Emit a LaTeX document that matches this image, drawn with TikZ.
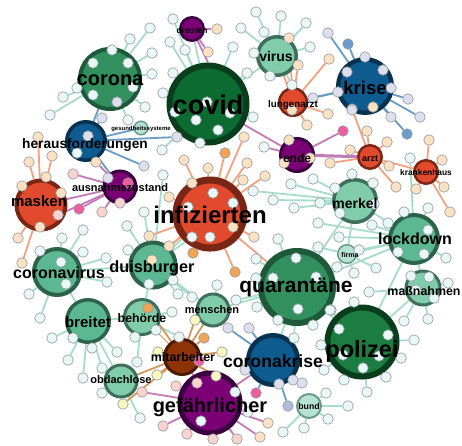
\documentclass[tikz,border=0pt]{standalone}
\usepackage{fontspec}
\setmainfont{Liberation Sans}
\usetikzlibrary{arrows.meta,positioning}
\pgfdeclarelayer{bg}\pgfdeclarelayer{paper}\pgfsetlayers{paper,bg,main}
\definecolor{cvG}{HTML}{0B6B30}\definecolor{cvGd}{HTML}{0A3D1C}
\definecolor{mG}{HTML}{31905D}\definecolor{mGd}{HTML}{1E5A3A}
\definecolor{pzG}{HTML}{1C7D41}
\definecolor{lG}{HTML}{5BB892}\definecolor{lGd}{HTML}{2C624A}
\definecolor{pG}{HTML}{80CCAB}\definecolor{pGd}{HTML}{3F6E5A}
\definecolor{tG}{HTML}{B7E3D4}\definecolor{tGd}{HTML}{6A9A8A}
\definecolor{rd}{HTML}{E24A2D}\definecolor{rdd}{HTML}{7A2614}
\definecolor{pu}{HTML}{7B0076}\definecolor{pud}{HTML}{3B0040}
\definecolor{bl}{HTML}{0D5B8F}\definecolor{bld}{HTML}{08324F}
\definecolor{br}{HTML}{8D3306}\definecolor{brd}{HTML}{4A1A03}
\definecolor{sc}{HTML}{E9F7F7}\definecolor{so}{HTML}{FDE1C3}\definecolor{sO}{HTML}{F3A356}
\definecolor{sp}{HTML}{FAD3CE}\definecolor{sP}{HTML}{EC5F9C}\definecolor{sl}{HTML}{DEDFEE}
\definecolor{sy}{HTML}{FCF6C1}\definecolor{sb}{HTML}{6B9DCB}\definecolor{sg}{HTML}{AFBCDC}
\definecolor{satb}{HTML}{8E9A9E}
\definecolor{eGc}{HTML}{A7DCC8}\definecolor{eRc}{HTML}{F4A17F}\definecolor{ePc}{HTML}{C27AB9}
\definecolor{eBc}{HTML}{6A9BC6}\definecolor{eNc}{HTML}{D6955A}
\tikzset{
  hub/.style 2 args={circle,fill=#1,draw=#2,inner sep=0pt},
  sat/.style={circle,draw=satb,line width=0.6pt,minimum size=10.5pt,inner sep=0pt},
  lbl/.style={anchor=base,inner sep=0pt,font=\fontsize{#1}{#1}\selectfont\bfseries},
  eg/.style={draw=eGc,line width=1.8pt},
  er/.style={draw=eRc,line width=1.8pt},
  ep/.style={draw=ePc,line width=1.8pt},
  eb/.style={draw=eBc,line width=1.8pt},
  en/.style={draw=eNc,line width=1.8pt}
}
% satellites: parent/x/y/fill
\def\greenlist{corona/130/39/sc,corona/150/28/sc,corona/152/53/sc,corona/152/74/sc,corona/145/107/sc,
  corona/128/120/sc,corona/50/115/sc,corona/63/97/sc,corona/77/88/sc,corona/112/50/sc,corona/93/63/sc,corona/128/63/sc,
  corona/93/95/sc,corona/117/102/sl,corona/133/87/sc,covid/173/19/sc,covid/170/42/sc,covid/173/73/sc,covid/163/93/sc,
  covid/175/112/sc,covid/196/120/sc,covid/207/102/sc,covid/230/113/sc,covid/218/130/sc,covid/200/143/sc,covid/162/150/sc,
  covid/253/117/sc,covid/233/47/sc,covid/247/73/sc,covid/185/50/sc,virus/256/12/sc,virus/281/16/sc,virus/306/23/sc,
  virus/241/28/sc,virus/264/32/sc,virus/310/47/sc,virus/254/53/sc,virus/270/76/sc,virus/292/85/sc,merkel/291/184/sc,
  merkel/313/179/sc,merkel/352/174/sc,merkel/335/188/sc,merkel/273/200/sc,merkel/294/208/sc,merkel/320/203/sc,
  merkel/340/213/sc,merkel/374/204/sc,merkel/373/183/sc,merkel/253/191/sc,lockdown/410/158/sc,lockdown/404/212/sc,
  lockdown/388/223/sc,lockdown/428/208/sc,lockdown/428/230/sc,lockdown/398/252/sc,lockdown/424/254/sc,lockdown/446/258/sc,
  lockdown/372/225/sc,lockdown/359/250/sc,lockdown/339/237/sc,lockdown/318/223/sc,firma/354/273/sc,firma/376/268/sc,
  firma/337/267/sc,firma/318/247/sc,quarant/278/239/sc,quarant/256/259/sc,quarant/256/278/sc,quarant/273/278/sc,
  quarant/296/258/sc,quarant/316/277/sc,quarant/257/307/sc,quarant/298/309/sc,quarant/331/310/sc,quarant/278/320/sc,
  quarant/313/325/sc,quarant/294/338/sc,quarant/236/300/sc,massn/411/276/sc,massn/429/277/sc,massn/448/283/sc,
  massn/416/290/sc,massn/404/321/sc,massn/428/319/sc,massn/434/298/sc,massn/369/292/sc,polizei/354/302/sc,
  polizei/339/329/sc,polizei/388/335/sc,polizei/379/356/sc,polizei/363/368/sc,polizei/343/355/sc,polizei/321/345/sc,
  polizei/330/310/sc,polizei/401/358/sc,polizei/386/377/sc,polizei/367/392/sc,polizei/344/380/sc,polizei/324/370/sc,
  polizei/414/340/sc,bund/326/393/sc,bund/348/406/sc,bund/328/419/sc,bund/304/428/sc,bund/283/432/sc,
  coronavirus/40/251/sc,coronavirus/62/238/sc,coronavirus/83/230/sc,coronavirus/83/252/sc,coronavirus/106/258/sc,
  coronavirus/61/262/sc,coronavirus/66/284/sc,coronavirus/29/294/sc,coronavirus/107/282/sc,coronavirus/40/318/sc,
  duisb/128/250/sc,duisb/127/226/sc,duisb/144/212/sc,duisb/163/175/sc,duisb/149/284/sc,duisb/173/280/sc,
  duisb/178/294/sc,duisb/192/237/sc,duisb/192/297/sc,breitet/52/338/sc,breitet/73/338/sc,breitet/92/348/sc,
  breitet/68/360/sc,breitet/83/378/sc,breitet/102/368/sc,breitet/117/352/sc,behoerde/135/337/sc,behoerde/156/330/sc,
  behoerde/137/362/sc,behoerde/172/312/sc,behoerde/179/337/sc,menschen/217/285/sc,obdach/102/393/sc,obdach/140/418/sc}
\def\redlist{infiz/184/160/so,infiz/208/168/so,infiz/192/183/so,infiz/213/193/sc,infiz/188/207/sc,
  infiz/233/203/sc,infiz/210/237/sc,infiz/233/227/so,infiz/169/197/so,infiz/149/236/so,infiz/169/246/so,infiz/193/253/sO,
  infiz/254/237/so,infiz/265/176/so,infiz/243/180/so,infiz/235/272/sO,infiz/247/163/so,infiz/152/260/so,infiz/225/153/sO,
  infiz/244/137/so,masken/29/162/so,masken/52/156/so,masken/46/177/so,masken/22/186/so,masken/61/193/so,masken/40/227/so,
  masken/18/238/so,masken/22/263/so,masken/38/137/so,lungenarzt/298/65/so,lungenarzt/329/59/so,lungenarzt/328/114/so,
  lungenarzt/292/110/so,lungenarzt/307/125/so,lungenarzt/289/38/so,arzt/352/109/so,arzt/367/131/so,arzt/350/150/so,
  arzt/387/142/so,arzt/389/166/so,arzt/396/187/so,arzt/330/163/so,krankenh/429/140/so,krankenh/442/160/so,
  krankenh/416/189/so,krankenh/444/187/so,krankenh/450/212/so}
\def\purplelist{drosten/217/29/so,drosten/208/52/so,ende/264/147/sc,ende/289/140/so,ende/284/163/so,
  ende/310/158/so,ende/343/131/sP,ausnahme/73/174/sp,ausnahme/96/162/so,ausnahme/108/178/sl,ausnahme/128/183/sP,
  ausnahme/120/203/sp,ausnahme/102/212/sp,ausnahme/79/209/sP,ausnahme/58/215/sp,gefaehrl/142/392/sp,gefaehrl/176/386/sp,
  gefaehrl/197/383/sp,gefaehrl/163/426/sp,gefaehrl/187/434/sp,gefaehrl/213/439/sp,gefaehrl/237/439/sp,gefaehrl/260/437/so,
  gefaehrl/268/423/so,gefaehrl/235/392/sc,gefaehrl/201/421/sc,gefaehrl/248/412/sc}
\def\bluelist{krise/328/33/sl,krise/348/44/sb,krise/365/57/sl,krise/383/70/sl,krise/347/72/sl,
  krise/338/92/sl,krise/391/88/sl,krise/408/99/sl,krise/420/117/sl,krise/391/117/sl,krise/407/134/sb,krise/373/107/so,
  krise/352/110/sl,krise/313/98/sl,herausf/88/136/sl,herausf/102/118/sl,herausf/177/137/sl,herausf/144/166/sl,
  herausf/77/153/sc,coronakrise/249/328/sl,coronakrise/228/328/sl,coronakrise/245/370/sl,coronakrise/256/393/sP,
  coronakrise/279/384/sl,coronakrise/293/380/sl,coronakrise/302/383/sl,coronakrise/288/406/sg}
\def\brownlist{mitarb/195/320/sy,mitarb/204/338/sO,mitarb/158/352/sy,mitarb/222/352/sy,
  mitarb/157/375/sy,mitarb/199/361/sP,mitarb/123/404/sy,mitarb/216/376/sy,mitarb/148/308/sO}
\begin{document}
\begin{tikzpicture}[x=1pt,y=-1pt]
\begin{pgfonlayer}{paper}\fill[white] (0,0) rectangle (462,445);\end{pgfonlayer}
\useasboundingbox (0,0) rectangle (462,445);
% hubs
\node[hub={cvG}{cvGd},line width=6pt,minimum size=77pt] (covid) at (208,104) {};
\node[hub={mG}{mGd},line width=4pt,minimum size=60pt] (corona) at (110,79) {};
\node[hub={pu}{pud},line width=2.5pt,minimum size=23.5pt] (drosten) at (192,29) {};
\node[hub={pG}{pGd},line width=3.5pt,minimum size=38.5pt] (virus) at (277,56) {};
\node[hub={rd}{rdd},line width=2.5pt,minimum size=27.5pt] (lungenarzt) at (293,102) {};
\node[hub={bl}{bld},line width=4.5pt,minimum size=53.5pt] (krise) at (365,86) {};
\node[hub={bl}{bld},line width=3.5pt,minimum size=38.5pt] (herausf) at (86,141) {};
\node[hub={tG}{tGd},line width=1.5pt,minimum size=13.5pt] (gesund) at (141,128) {};
\node[hub={pu}{pud},line width=3pt,minimum size=33pt] (ende) at (297,155) {};
\node[hub={rd}{rdd},line width=2.5pt,minimum size=23.5pt] (arzt) at (370,157) {};
\node[hub={rd}{rdd},line width=2.5pt,minimum size=23.5pt] (krankenh) at (426,172) {};
\node[hub={rd}{rdd},line width=4pt,minimum size=49pt] (masken) at (41,205) {};
\node[hub={pu}{pud},line width=3pt,minimum size=32pt] (ausnahme) at (120,187) {};
\node[hub={rd}{rdd},line width=7pt,minimum size=68pt] (infiz) at (210,214) {};
\node[hub={pG}{pGd},line width=3.5pt,minimum size=42.5pt] (merkel) at (355,201) {};
\node[hub={lG}{lGd},line width=4pt,minimum size=48pt] (lockdown) at (414,239) {};
\node[hub={tG}{tGd},line width=1.5pt,minimum size=18.5pt] (firma) at (347,254) {};
\node[hub={mG}{mGd},line width=6pt,minimum size=72pt] (quarant) at (297,287) {};
\node[hub={pG}{pGd},line width=3pt,minimum size=34pt] (massn) at (423,288) {};
\node[hub={lG}{lGd},line width=4pt,minimum size=46pt] (coronavirus) at (57,272) {};
\node[hub={lG}{lGd},line width=4pt,minimum size=45pt] (duisb) at (153,265) {};
\node[hub={lG}{lGd},line width=3.5pt,minimum size=42.5pt] (breitet) at (88,321) {};
\node[hub={pG}{pGd},line width=3pt,minimum size=35pt] (behoerde) at (142,317) {};
\node[hub={pG}{pGd},line width=3pt,minimum size=32pt] (menschen) at (213,310) {};
\node[hub={br}{brd},line width=3pt,minimum size=35pt] (mitarb) at (182,357) {};
\node[hub={pG}{pGd},line width=3pt,minimum size=32pt] (obdach) at (121,381) {};
\node[hub={bl}{bld},line width=4.5pt,minimum size=49.5pt] (coronakrise) at (273,360) {};
\node[hub={pzG}{cvGd},line width=6pt,minimum size=69pt] (polizei) at (362,342) {};
\node[hub={pu}{pud},line width=5pt,minimum size=60pt] (gefaehrl) at (210,403) {};
\node[hub={tG}{tGd},line width=2pt,minimum size=24pt] (bund) at (309,406) {};
% satellites
\foreach \p/\x/\y/\c [count=\i] in \greenlist {\node[sat,fill=\c] (g\i) at (\x,\y) {};}
\foreach \p/\x/\y/\c [count=\i] in \redlist {\node[sat,fill=\c] (r\i) at (\x,\y) {};}
\foreach \p/\x/\y/\c [count=\i] in \purplelist {\node[sat,fill=\c] (p\i) at (\x,\y) {};}
\foreach \p/\x/\y/\c [count=\i] in \bluelist {\node[sat,fill=\c] (b\i) at (\x,\y) {};}
\foreach \p/\x/\y/\c [count=\i] in \brownlist {\node[sat,fill=\c] (n\i) at (\x,\y) {};}
% links
\begin{pgfonlayer}{bg}
\foreach \p/\x/\y/\c [count=\i] in \greenlist {\draw[eg] (\p)--(g\i);}
\foreach \p/\x/\y/\c [count=\i] in \redlist {\draw[er] (\p)--(r\i);}
\foreach \p/\x/\y/\c [count=\i] in \purplelist {\draw[ep] (\p)--(p\i);}
\foreach \p/\x/\y/\c [count=\i] in \bluelist {\draw[eb] (\p)--(b\i);}
\foreach \p/\x/\y/\c [count=\i] in \brownlist {\draw[en] (\p)--(n\i);}
\draw[eg] (covid)--(virus); \draw[eg] (covid)--(drosten); \draw[eg] (duisb)--(infiz); \draw[eg] (duisb)--(coronavirus);
\draw[eg] (coronavirus)--(breitet); \draw[eg] (breitet)--(behoerde); \draw[eg] (breitet)--(obdach); \draw[eg] (duisb)--(menschen);
\draw[eg] (duisb)--(behoerde); \draw[eg] (menschen)--(quarant); \draw[eg] (merkel)--(lockdown); \draw[eg] (merkel)--(quarant);
\draw[eg] (quarant)--(lockdown); \draw[eg] (lockdown)--(massn); \draw[eg] (polizei)--(massn); \draw[eg] (quarant)--(polizei);
\draw[eg] (lockdown)--(polizei); \draw[eg] (firma)--(lockdown); \draw[eg] (firma)--(merkel); \draw[eg] (quarant)--(coronakrise);
\draw[ep] (covid.north)--(drosten); \draw[ep] (covid)--(ende); \draw[ep,line width=3pt] (ende)--(arzt); \draw[ep] (ausnahme)--(masken);
\draw[ep] (gefaehrl)--(mitarb); \draw[ep] (gefaehrl)--(coronakrise);
\draw[er] (lungenarzt)--(virus); \draw[er] (arzt)--(krankenh); \draw[er] (infiz)--(quarant);
\draw[eb] (lungenarzt)--(krise); \draw[eb] (herausf)--(corona); \draw[eb] (herausf)--(ausnahme); \draw[eb] (herausf)--(gesund);
\draw[en] (mitarb)--(obdach); \draw[en,line width=0.8pt] (mitarb)--(behoerde); \draw[en] (mitarb)--(menschen);
\end{pgfonlayer}
% labels
\node[lbl=27] (covid-t) at (208,114) {covid};
\node[lbl=20] (corona-t) at (110,85) {corona};
\node[lbl=8.4] (drosten-t) at (192,33) {drosten};
\node[lbl=14] (virus-t) at (276,61) {virus};
\node[lbl=9.8] (lungenarzt-t) at (293,107) {lungenarzt};
\node[lbl=18.5] (krise-t) at (365,94) {krise};
\node[lbl=13.7] (herausf-t) at (85,148) {herausforderungen};
\node[lbl=6] (gesund-t) at (141,130) {gesundheitssysteme};
\node[lbl=12] (ende-t) at (297,162) {ende};
\node[lbl=9] (arzt-t) at (370,161) {arzt};
\node[lbl=8.4] (krankenh-t) at (426,175) {krankenhaus};
\node[lbl=15] (masken-t) at (39,206) {masken};
\node[lbl=11] (ausnahme-t) at (120,191) {ausnahmezustand};
\node[lbl=24] (infiz-t) at (210,223) {infizierten};
\node[lbl=14] (merkel-t) at (355,208) {merkel};
\node[lbl=16] (lockdown-t) at (415,244) {lockdown};
\node[lbl=7] (firma-t) at (350,257) {firma};
\node[lbl=21] (quarant-t) at (296,292) {quarantäne};
\node[lbl=12.4] (massn-t) at (424,295) {maßnahmen};
\node[lbl=16] (coronavirus-t) at (59,278) {coronavirus};
\node[lbl=16.3] (duisb-t) at (152,272) {duisburger};
\node[lbl=15] (breitet-t) at (88,327) {breitet};
\node[lbl=12.3] (behoerde-t) at (142,322) {behörde};
\node[lbl=11] (menschen-t) at (212,313) {menschen};
\node[lbl=12.4] (mitarb-t) at (183,361) {mitarbeiter};
\node[lbl=11] (obdach-t) at (121,383) {obdachlose};
\node[lbl=17.6] (coronakrise-t) at (273,367) {coronakrise};
\node[lbl=23.5] (polizei-t) at (362,357) {polizei};
\node[lbl=20] (gefaehrl-t) at (210,412) {gefährlicher};
\node[lbl=8.7] (bund-t) at (309,409) {bund};
\end{tikzpicture}
\end{document}
